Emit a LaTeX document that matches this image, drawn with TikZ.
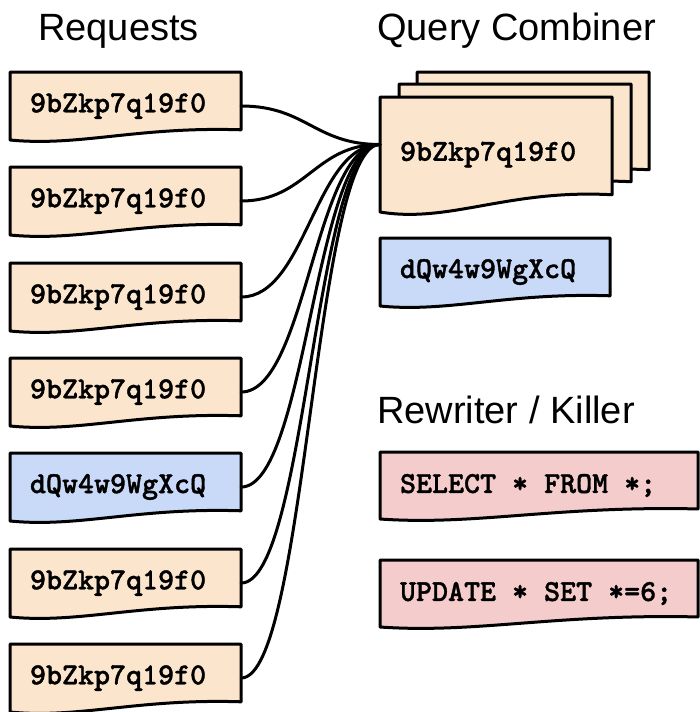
\documentclass[tikz,border=0pt]{standalone}
\usepackage{fontspec}
\newfontfamily\headfont{Liberation Sans}
\newfontfamily\codefont{lmmonolt10-bold.otf}[FakeBold=1.2]
\usepackage{tikz}
\usepackage{xcolor}

\definecolor{reqorange}{HTML}{FCE5CD}
\definecolor{reqblue}{HTML}{C9DAF8}
\definecolor{killred}{HTML}{F4CCCC}

\tikzset{
  docline/.style={line width=3pt, line join=round},
  doctext/.style={inner xsep=20pt, inner ysep=0pt, font=\fontsize{30.5}{32}\selectfont\codefont},
  title/.style={inner sep=0pt, font=\fontsize{38}{40}\selectfont\headfont},
  link/.style={line width=3pt, line cap=round}
}

% document shape: name, top left, width, height, fill, text
\newcommand{\docbox}[6]{%
  \begin{scope}[shift={(#2)}, x=#3pt, y=-#4pt]
    \draw[docline, fill=#5] (0,0) -- (1,0) -- (1,0.85)
      .. controls (0.55,0.8) and (0.3,1.1) .. (0,1) -- cycle;
    \node[doctext, minimum width=#3pt, minimum height=#4pt] (#1) at (0.5,0.5)
      {\makebox[\dimexpr#3pt-40pt\relax][l]{#6}};
  \end{scope}}

\begin{document}
\begin{tikzpicture}[x=1pt, y=-1pt]
\useasboundingbox (0,0) rectangle (700,712);

% titles
\node[title, anchor=base west] (reqtitle) at (38,40) {Requests};
\node[title, anchor=base west] (combtitle) at (377,40) {Query Combiner};
\node[title, anchor=base west] (killtitle) at (377,423) {Rewriter / Killer};

% requests
\docbox{r1}{10,72}{231}{68}{reqorange}{9bZkp7q19f0}
\docbox{r2}{10,167}{231}{68}{reqorange}{9bZkp7q19f0}
\docbox{r3}{10,263}{231}{68}{reqorange}{9bZkp7q19f0}
\docbox{r4}{10,358}{231}{68}{reqorange}{9bZkp7q19f0}
\docbox{r5}{10,453}{231}{68}{reqblue}{dQw4w9WgXcQ}
\docbox{r6}{10,549}{231}{68}{reqorange}{9bZkp7q19f0}
\docbox{r7}{10,644}{231}{68}{reqorange}{9bZkp7q19f0}

% query combiner (stack)
\docbox{qc3}{417,72}{232}{115}{reqorange}{}
\docbox{qc2}{399,84}{232}{115}{reqorange}{}
\docbox{qc}{380,97}{232}{115}{reqorange}{9bZkp7q19f0}
\docbox{qb}{380,238}{230}{68}{reqblue}{dQw4w9WgXcQ}

% rewriter / killer
\docbox{k1}{380,452}{318}{67}{killred}{SELECT * FROM *;}
\docbox{k2}{380,560}{318}{67}{killred}{UPDATE * SET *=6;}

% connectors
\coordinate (qin) at ([yshift=10pt]qc.west);
\foreach \i in {1,...,7}
  \draw[link] (r\i.east) to[out=0, in=180, out distance=65pt, in distance=65pt] (qin);
\end{tikzpicture}
\end{document}
